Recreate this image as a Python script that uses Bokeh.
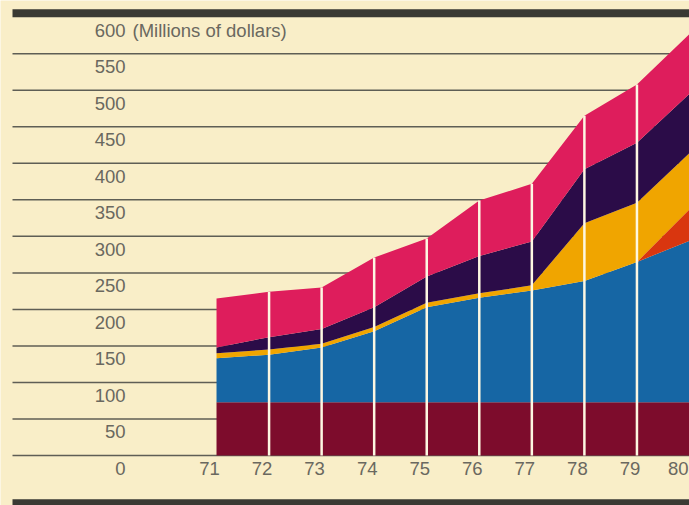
from bokeh.plotting import figure
from bokeh.models import ColumnDataSource, Range1d
from bokeh.core.properties import value
from bokeh.embed import file_html
from bokeh.resources import INLINE

# ---- data (millions of dollars) ----
years = [71, 72, 73, 74, 75, 76, 77, 78, 79, 80]
year_labels = ["71", "72", "73", "74", "75", "76", "77", "78", "79", "80"]
base = [73, 73, 73, 73, 73, 73, 73, 73, 73, 73]            # maroon
blue = [60, 65, 75, 97, 130, 143, 153, 166, 192, 221]
red = [0, 0, 0, 0, 0, 0, 0, 0, 0, 43]
yellow = [7, 7, 5, 6, 6, 6, 7, 79, 81, 77]
purple = [8, 17, 20, 27, 36, 51, 60, 74, 82, 81]
pink = [67, 62, 57, 68, 52, 76, 79, 73, 80, 82]
y_ticks = [0, 50, 100, 150, 200, 250, 300, 350, 400, 450, 500, 550]
y_tick_labels = ["0", "50", "100", "150", "200", "250", "300", "350", "400", "450", "500", "550"]
top_value = 600
unit_label = "(Millions of dollars)"

# ---- styles ----
BG = "#f9eec8"
COLORS = ["#7d0c2c", "#1666a4", "#d9360f", "#f0a500", "#2b0c48", "#de1d5c"]
GRID = "#5f5e55"
TXT = "#6a685f"
FONT = value("Liberation Sans")
FS = "18.5px"

W, H = 689, 505
x0_px, x_per_year = 216.0, 52.55
y0_px, px_per_unit = 455.0, 0.7305

x_start = years[0] - x0_px / x_per_year
y_top = y0_px / px_per_unit
y_bot = -(H - y0_px) / px_per_unit

p = figure(width=W, height=H, output_backend="svg", toolbar_location=None,
           x_range=Range1d(x_start, years[-1]), y_range=Range1d(y_bot, y_top),
           min_border=0, min_border_left=0, min_border_right=0,
           min_border_top=0, min_border_bottom=0)
p.axis.visible = False
p.grid.visible = False
p.outline_line_color = None
p.background_fill_color = BG
p.border_fill_color = BG

def px_to_x(px):
    return x_start + px / x_per_year

# gridlines
gx0 = px_to_x(12)
p.segment(x0=[gx0] * len(y_ticks), y0=y_ticks, x1=[years[-1]] * len(y_ticks), y1=y_ticks,
          line_color=GRID, line_width=1.5)
# top and bottom heavy rules
p.quad(left=gx0, right=years[-1], bottom=top_value, top=top_value + 11,
       fill_color="#3a3a34", line_color=None)
p.quad(left=gx0, right=years[-1], bottom=y_bot - 5, top=-60,
       fill_color="#3a3a34", line_color=None)

# stacked areas
names = ["base", "blue", "red", "yellow", "purple", "pink"]
src = ColumnDataSource(dict(x=years, base=base, blue=blue, red=red,
                            yellow=yellow, purple=purple, pink=pink))
p.varea_stack(stackers=names, x="x", color=COLORS, source=src)

# white year dividers up to the top of the stack
totals = [a + b + c + d + e + f for a, b, c, d, e, f in zip(base, blue, red, yellow, purple, pink)]
mid = years[1:-1]
p.segment(x0=mid, y0=[0] * len(mid), x1=mid, y1=totals[1:-1],
          line_color="#fdf7e2", line_width=2.5)

# y tick labels (right aligned, below each rule)
lab_x = px_to_x(125)
common = dict(text_baseline="middle", text_font=FONT, text_font_size=FS, text_color=TXT)
p.text(x=[lab_x] * len(y_ticks), y=y_ticks, text=y_tick_labels, y_offset=13,
       text_align="right", **common)
p.text(x=[lab_x], y=[top_value], text=[str(top_value)], y_offset=13,
       text_align="right", **common)
p.text(x=[px_to_x(132)], y=[top_value], text=[unit_label], y_offset=13,
       text_align="left", **common)

# x labels
p.text(x=years[:-1], y=[0] * (len(years) - 1), text=year_labels[:-1], x_offset=-7, y_offset=13,
       text_align="center", **common)
p.text(x=years[-1:], y=[0], text=year_labels[-1:], x_offset=-1, y_offset=13,
       text_align="right", **common)

open("out.html", "w").write(file_html(p, INLINE))
